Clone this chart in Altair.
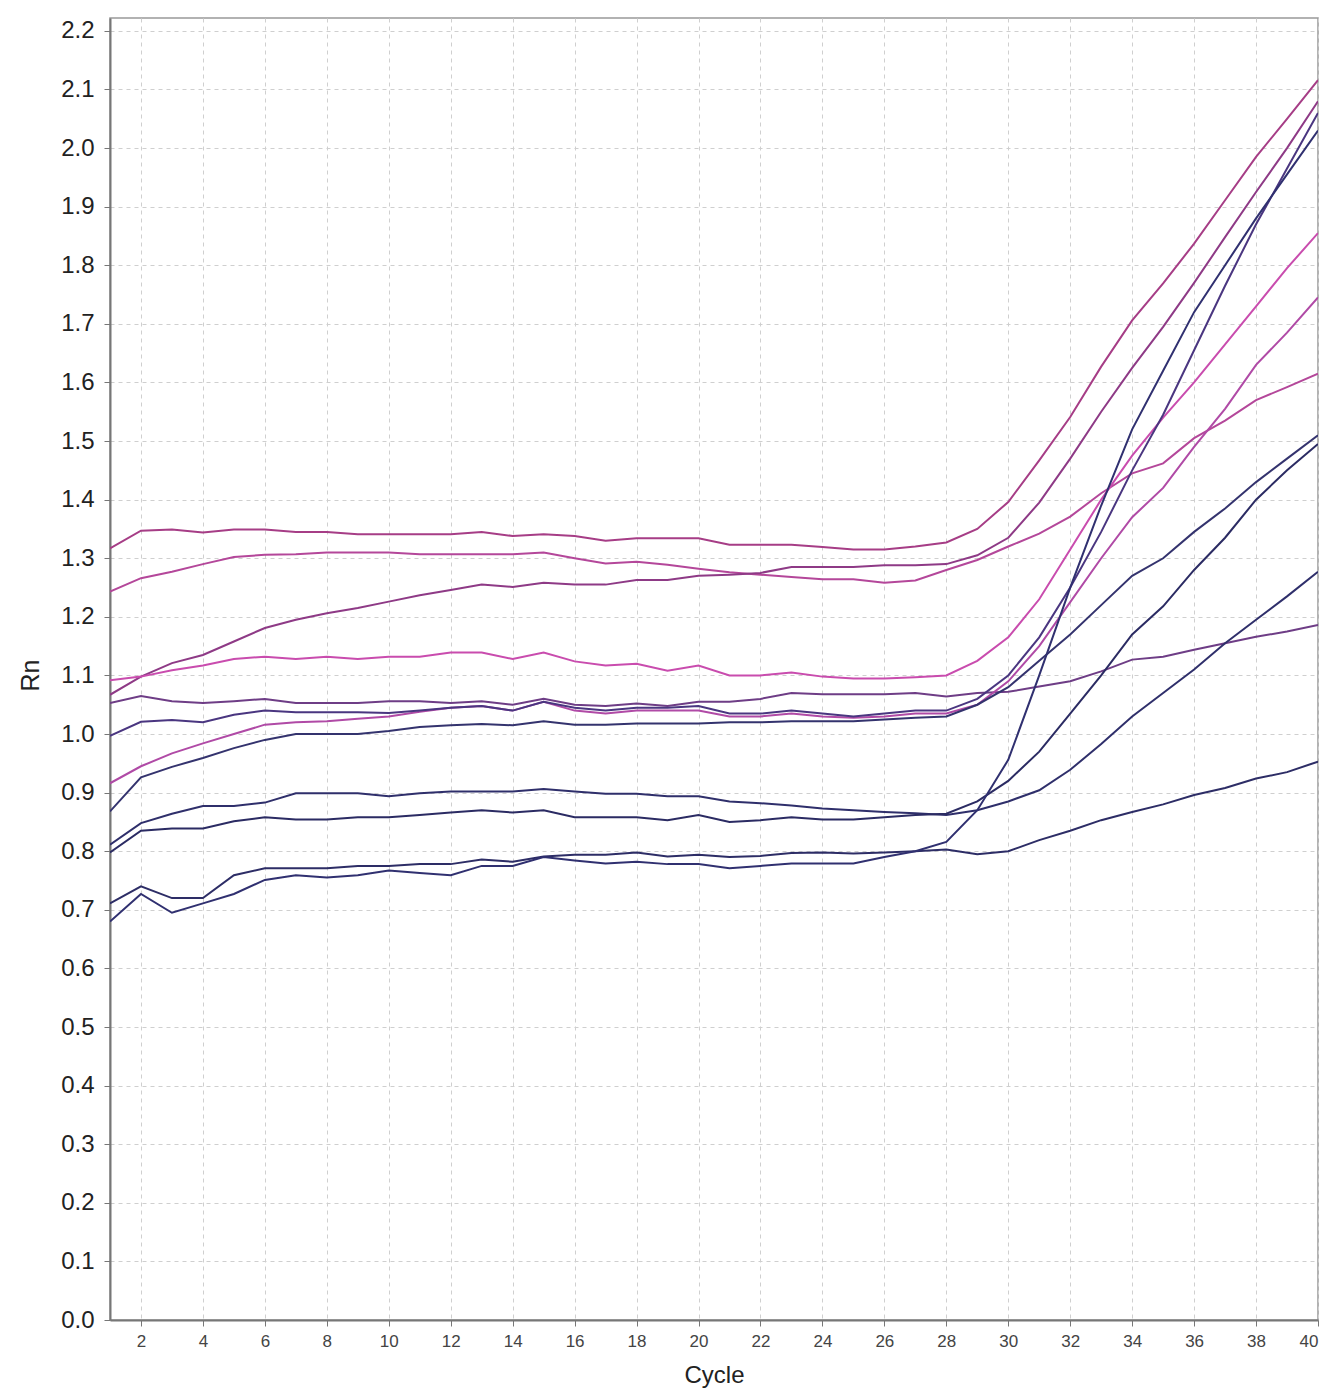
import altair as alt
import pandas as pd

cycles = list(range(1, 41))

# Rn values per well (cycles 1..40)
well_a = [1.317, 1.347, 1.349, 1.344, 1.349, 1.349, 1.345, 1.345, 1.341, 1.341,
          1.341, 1.341, 1.345, 1.338, 1.341, 1.338, 1.330, 1.334, 1.334, 1.334,
          1.323, 1.323, 1.323, 1.319, 1.315, 1.315, 1.320, 1.327, 1.350, 1.396,
          1.467, 1.541, 1.627, 1.706, 1.769, 1.837, 1.911, 1.985, 2.050, 2.116]
well_b = [1.243, 1.266, 1.277, 1.290, 1.302, 1.306, 1.307, 1.310, 1.310, 1.310,
          1.307, 1.307, 1.307, 1.307, 1.310, 1.300, 1.291, 1.294, 1.289, 1.282,
          1.276, 1.272, 1.268, 1.264, 1.264, 1.258, 1.262, 1.280, 1.297, 1.320,
          1.342, 1.371, 1.411, 1.445, 1.462, 1.505, 1.535, 1.570, 1.592, 1.615]
well_c = [1.067, 1.098, 1.121, 1.135, 1.158, 1.181, 1.195, 1.206, 1.215, 1.226,
          1.237, 1.246, 1.255, 1.251, 1.258, 1.255, 1.255, 1.263, 1.263, 1.270,
          1.272, 1.275, 1.285, 1.285, 1.285, 1.288, 1.288, 1.290, 1.305, 1.335,
          1.395, 1.470, 1.550, 1.625, 1.695, 1.770, 1.848, 1.925, 2.000, 2.080]
well_d = [1.092, 1.098, 1.109, 1.117, 1.128, 1.132, 1.128, 1.132, 1.128, 1.132,
          1.132, 1.139, 1.139, 1.128, 1.139, 1.124, 1.117, 1.120, 1.108, 1.117,
          1.100, 1.100, 1.105, 1.098, 1.095, 1.095, 1.097, 1.100, 1.125, 1.165,
          1.230, 1.315, 1.400, 1.475, 1.540, 1.600, 1.665, 1.730, 1.795, 1.855]
well_e = [1.053, 1.065, 1.056, 1.053, 1.056, 1.060, 1.053, 1.053, 1.053, 1.056,
          1.056, 1.053, 1.056, 1.050, 1.060, 1.050, 1.048, 1.052, 1.048, 1.055,
          1.055, 1.060, 1.070, 1.068, 1.068, 1.068, 1.070, 1.064, 1.070, 1.072,
          1.081, 1.090, 1.107, 1.127, 1.132, 1.144, 1.155, 1.166, 1.175, 1.186]
well_f = [0.916, 0.945, 0.967, 0.984, 1.000, 1.016, 1.020, 1.022, 1.026, 1.030,
          1.038, 1.045, 1.048, 1.040, 1.055, 1.040, 1.035, 1.040, 1.040, 1.040,
          1.030, 1.030, 1.035, 1.030, 1.028, 1.030, 1.035, 1.035, 1.050, 1.090,
          1.150, 1.225, 1.300, 1.370, 1.420, 1.490, 1.555, 1.630, 1.685, 1.745]
well_g = [0.997, 1.021, 1.024, 1.020, 1.033, 1.040, 1.037, 1.037, 1.037, 1.036,
          1.040, 1.045, 1.048, 1.040, 1.055, 1.045, 1.040, 1.045, 1.045, 1.048,
          1.035, 1.035, 1.040, 1.035, 1.030, 1.035, 1.040, 1.040, 1.060, 1.100,
          1.165, 1.250, 1.345, 1.450, 1.545, 1.655, 1.765, 1.870, 1.965, 2.060]
well_h = [0.868, 0.926, 0.944, 0.959, 0.976, 0.990, 1.000, 1.000, 1.000, 1.005,
          1.012, 1.015, 1.017, 1.015, 1.022, 1.016, 1.016, 1.018, 1.018, 1.018,
          1.020, 1.020, 1.022, 1.022, 1.022, 1.025, 1.028, 1.030, 1.050, 1.080,
          1.125, 1.170, 1.220, 1.270, 1.300, 1.345, 1.385, 1.430, 1.470, 1.510]
well_i = [0.811, 0.848, 0.864, 0.877, 0.877, 0.883, 0.899, 0.899, 0.899, 0.894,
          0.899, 0.902, 0.902, 0.902, 0.906, 0.902, 0.898, 0.898, 0.894, 0.894,
          0.885, 0.882, 0.878, 0.873, 0.870, 0.867, 0.865, 0.862, 0.870, 0.885,
          0.904, 0.939, 0.983, 1.030, 1.070, 1.110, 1.155, 1.195, 1.235, 1.277]
well_j = [0.798, 0.835, 0.839, 0.839, 0.851, 0.858, 0.854, 0.854, 0.858, 0.858,
          0.862, 0.866, 0.870, 0.866, 0.870, 0.858, 0.858, 0.858, 0.853, 0.862,
          0.850, 0.853, 0.858, 0.854, 0.854, 0.858, 0.862, 0.864, 0.885, 0.920,
          0.970, 1.035, 1.100, 1.170, 1.218, 1.280, 1.335, 1.400, 1.450, 1.495]
well_k = [0.711, 0.740, 0.720, 0.720, 0.759, 0.771, 0.771, 0.771, 0.775, 0.775,
          0.778, 0.778, 0.786, 0.782, 0.791, 0.794, 0.794, 0.798, 0.791, 0.794,
          0.790, 0.792, 0.797, 0.798, 0.796, 0.798, 0.800, 0.803, 0.795, 0.800,
          0.819, 0.835, 0.853, 0.867, 0.880, 0.896, 0.908, 0.924, 0.935, 0.953]
well_l = [0.680, 0.727, 0.695, 0.711, 0.727, 0.751, 0.759, 0.755, 0.759, 0.767,
          0.763, 0.759, 0.775, 0.775, 0.790, 0.784, 0.779, 0.782, 0.778, 0.778,
          0.771, 0.775, 0.779, 0.779, 0.779, 0.790, 0.800, 0.816, 0.870, 0.956,
          1.100, 1.250, 1.390, 1.520, 1.620, 1.720, 1.800, 1.880, 1.955, 2.030]

series_names = ["w01", "w02", "w03", "w04", "w05", "w06",
                "w07", "w08", "w09", "w10", "w11", "w12"]
series_values = [well_a, well_b, well_c, well_d, well_e, well_f,
                 well_g, well_h, well_i, well_j, well_k, well_l]
series_colors = ["#a63d86", "#b4479a", "#8e3a86", "#c94cae", "#6e3d86", "#b04aa6",
                 "#4a3680", "#34336e", "#2f2f6b", "#2b2b63", "#2d2d66", "#303070"]

x_ticks = list(range(2, 41, 2))
y_ticks = [round(i * 0.1, 1) for i in range(23)]

rows = []
for name, vals in zip(series_names, series_values):
    for c, v in zip(cycles, vals):
        rows.append({"well": name, "Cycle": c, "Rn": v})
df = pd.DataFrame(rows)

FONT = "Liberation Sans"

chart = alt.Chart(df).mark_line(strokeWidth=2, clip=True).encode(
    x=alt.X("Cycle:Q",
            scale=alt.Scale(domain=[1, 40], nice=False, zero=False),
            axis=alt.Axis(values=x_ticks, format="d", title="Cycle",
                          labelFont=FONT, labelFontSize=17, labelColor="#444444",
                          labelPadding=7, tickSize=6, tickColor="#777777",
                          domainColor="#777777", domainWidth=2,
                          titleFont=FONT, titleFontSize=24, titleFontWeight="normal",
                          titleColor="#222222", titleY=55, titleBaseline="middle",
                          grid=True, gridColor="#cfcfcf", gridDash=[4, 4], gridWidth=1)),
    y=alt.Y("Rn:Q",
            scale=alt.Scale(domain=[0, 2.222], nice=False, zero=True),
            axis=alt.Axis(values=y_ticks, format=".1f", title="Rn",
                          labelFont=FONT, labelFontSize=24, labelColor="#222222",
                          labelPadding=10, tickSize=6, tickColor="#777777",
                          domainColor="#777777", domainWidth=2,
                          titleFont=FONT, titleFontSize=25, titleFontWeight="normal",
                          titleColor="#222222", titleX=-80, titleY=657,
                          titleBaseline="middle", titleAngle=270,
                          grid=True, gridColor="#cfcfcf", gridDash=[4, 4], gridWidth=1)),
    color=alt.Color("well:N", scale=alt.Scale(domain=series_names, range=series_colors),
                    legend=None),
).properties(
    width=1208,
    height=1302,
    autosize=alt.AutoSizeParams(type="none"),
    padding={"left": 102, "top": 10, "right": 3, "bottom": 71},
    background="white",
).configure_view(stroke="#999999", strokeWidth=1.5)

chart.save("out.html", embed_options={"renderer": "svg", "actions": False})
